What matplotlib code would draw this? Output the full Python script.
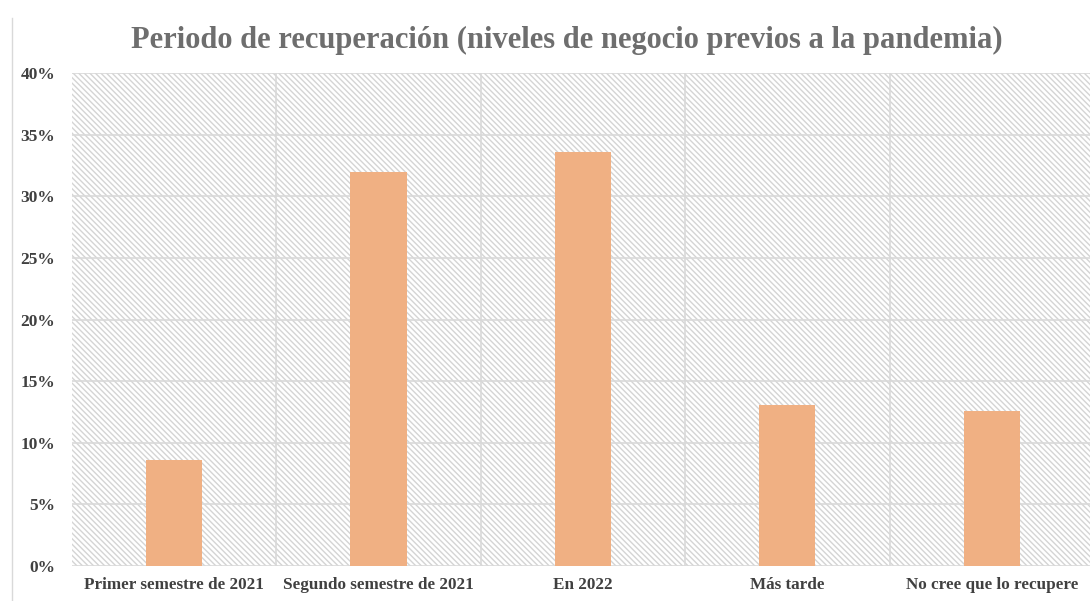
import matplotlib.pyplot as plt
from matplotlib.patches import Rectangle
from matplotlib.ticker import FuncFormatter, MultipleLocator

categories = ['Primer semestre de 2021', 'Segundo semestre de 2021', 'En 2022',
              'Más tarde', 'No cree que lo recupere']
values = [8.6, 32.0, 33.6, 13.1, 12.6]

plt.rcParams['font.family'] = ['Liberation Serif', 'DejaVu Serif']
plt.rcParams['hatch.color'] = '#d4d4d4'
plt.rcParams['hatch.linewidth'] = 1.0

fig = plt.figure(figsize=(10.9, 6.01), dpi=100)
ax = fig.add_axes([0.066, 0.0582, 0.9376, 0.8203])

# hatched plot-area background
ax.add_patch(Rectangle((0, 0), 1, 1, transform=ax.transAxes, facecolor='white',
                       edgecolor='#d4d4d4', hatch='\\\\\\\\\\\\', linewidth=0, zorder=0))

x = range(len(categories))
ax.bar(x, values, width=0.275, color='#f0b083', zorder=3)

ax.set_xlim(-0.5, len(categories) - 0.5)
ax.set_ylim(0, 40)
ax.yaxis.set_major_locator(MultipleLocator(5))
ax.yaxis.set_major_formatter(FuncFormatter(lambda v, p: f'{v:.0f}%'))
ax.set_xticks(list(x))
ax.set_xticklabels(categories)
ax.set_xticks([i + 0.5 for i in range(len(categories) - 1)], minor=True)

ax.grid(axis='y', which='major', color='#d9d9d9', linewidth=1.2, zorder=1)
ax.grid(axis='x', which='minor', color='#d9d9d9', linewidth=1.2, zorder=1)
ax.set_axisbelow(True)
for s in ax.spines.values():
    s.set_visible(False)
ax.tick_params(axis='both', which='both', length=0, colors='#404040')
ax.tick_params(axis='x', pad=8, labelsize=12.3)
ax.tick_params(axis='y', pad=12, labelsize=12.5)
for lbl in ax.get_xticklabels() + ax.get_yticklabels():
    lbl.set_fontweight('bold')

fig.text(0.52, 0.933, 'Periodo de recuperación (niveles de negocio previos a la pandemia)',
         ha='center', va='center', fontsize=22, fontweight='bold', color='#6e6e6e')

# thin left border line of the original frame
fig.add_artist(plt.Line2D([0.011, 0.011], [0, 0.97], color='#d9d9d9', linewidth=1))

fig.savefig('out.png', dpi=100)
